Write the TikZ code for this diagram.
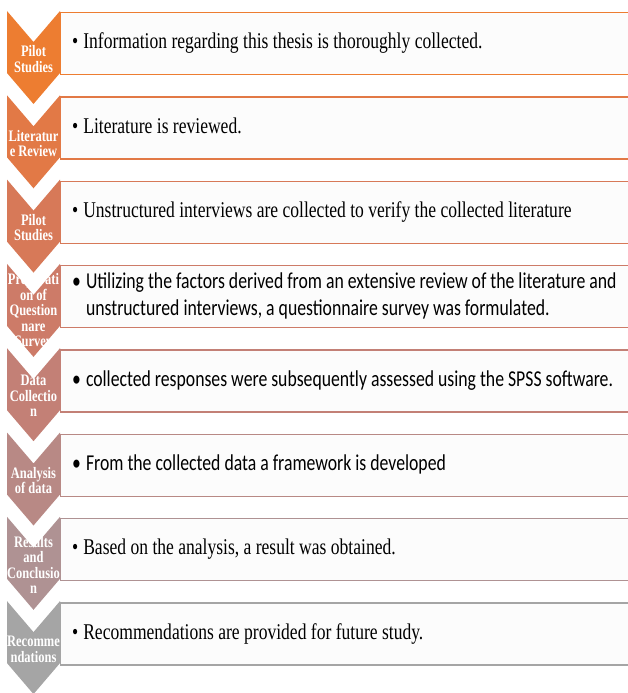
\documentclass[tikz,border=0pt]{standalone}
\usepackage{fontspec}
\setmainfont[FakeStretch=0.78]{Liberation Serif}
\newfontfamily\calibri[FakeStretch=0.78]{Carlito}
\usepackage{tikz}
\usetikzlibrary{positioning,calc}

\definecolor{chev1}{RGB}{237,125,49}
\definecolor{chev2}{RGB}{226,121,70}
\definecolor{chev3}{RGB}{215,121,88}
\definecolor{chev4}{RGB}{205,123,104}
\definecolor{chev5}{RGB}{195,128,118}
\definecolor{chev6}{RGB}{184,137,133}
\definecolor{chev7}{RGB}{175,146,147}
\definecolor{chev8}{RGB}{165,165,165}
\definecolor{boxfill}{RGB}{252,252,252}

% bullet with the lines of a point hanging after it
\newcommand\bpoint[1]{\textbullet\hspace{0.22em}\begin{tabular}[t]{@{}l@{}}#1\end{tabular}}

\begin{document}
\begin{tikzpicture}[x=1pt,y=-1pt,
itembox/.style  = { rectangle, draw=#1, line width=1.4pt, fill=boxfill,
    anchor=north west, minimum width=600pt, minimum height=62pt },
itemtext/.style = { inner sep=0pt, align=left,
    font=\fontsize{22.5}{26}\selectfont },
calibritext/.style = { itemtext, font=\calibri\fontsize{22.7}{27}\selectfont },
chevlabel/.style = { text=white, align=center, inner sep=0pt,
    font=\fontsize{16}{15.5}\selectfont\bfseries },
]
\useasboundingbox (0,0) rectangle (628,693);
\clip (0,0) rectangle (628,693);

% chevrons, last one first so each tip lies over the next label
\foreach \i/\lab in {8/{Recomme\\ndations}, 7/{Results\\and\\Conclusio\\n},
    6/{Analysis\\of data}, 5/{Data\\Collectio\\n},
    4/{Preparati\\on of\\Question\\nare\\Survey}, 3/{Pilot\\Studies},
    2/{Literatur\\e Review}, 1/{Pilot\\Studies}} {
  \pgfmathsetmacro\top{11+84.3*(\i-1)}
  \fill[chev\i] (7,\top) -- (33.5,\top+31) -- (60,\top) -- (60,\top+62)
      -- (33.5,\top+93) -- (7,\top+62) -- cycle;
  \node[chevlabel] (lab\i) at (33.5,\top+48) {\lab};
}

% text boxes
\node[itembox=chev1] (box1) at (60,12.0) {};
\node[itembox=chev2] (box2) at (60,96.3) {};
\node[itembox=chev3] (box3) at (60,180.6) {};
\node[itembox=chev4] (box4) at (60,264.9) {};
\node[itembox=chev5] (box5) at (60,349.2) {};
\node[itembox=chev6] (box6) at (60,433.5) {};
\node[itembox=chev7] (box7) at (60,517.8) {};
\node[itembox=chev8] (box8) at (60,602.1) {};

% the points written in them
\node[itemtext, right=12pt of box1.west] (txt1)
  {\bpoint{Information regarding this thesis is thoroughly collected.}};
\node[itemtext, right=12pt of box2.west] (txt2)
  {\bpoint{Literature is reviewed.}};
\node[itemtext, right=12pt of box3.west] (txt3)
  {\bpoint{Unstructured interviews are collected to verify the collected literature}};
\node[calibritext, right=12pt of box4.west] (txt4)
  {\bpoint{Utilizing the factors derived from an extensive review of the literature and\\
   unstructured interviews, a questionnaire survey was formulated.}};
\node[calibritext, right=12pt of box5.west] (txt5)
  {\bpoint{collected responses were subsequently assessed using the SPSS software.}};
\node[calibritext, right=12pt of box6.west] (txt6)
  {\bpoint{From the collected data a framework is developed}};
\node[itemtext, right=12pt of box7.west] (txt7)
  {\bpoint{Based on the analysis, a result was obtained.}};
\node[itemtext, right=12pt of box8.west] (txt8)
  {\bpoint{Recommendations are provided for future study.}};

\end{tikzpicture}
\end{document}
